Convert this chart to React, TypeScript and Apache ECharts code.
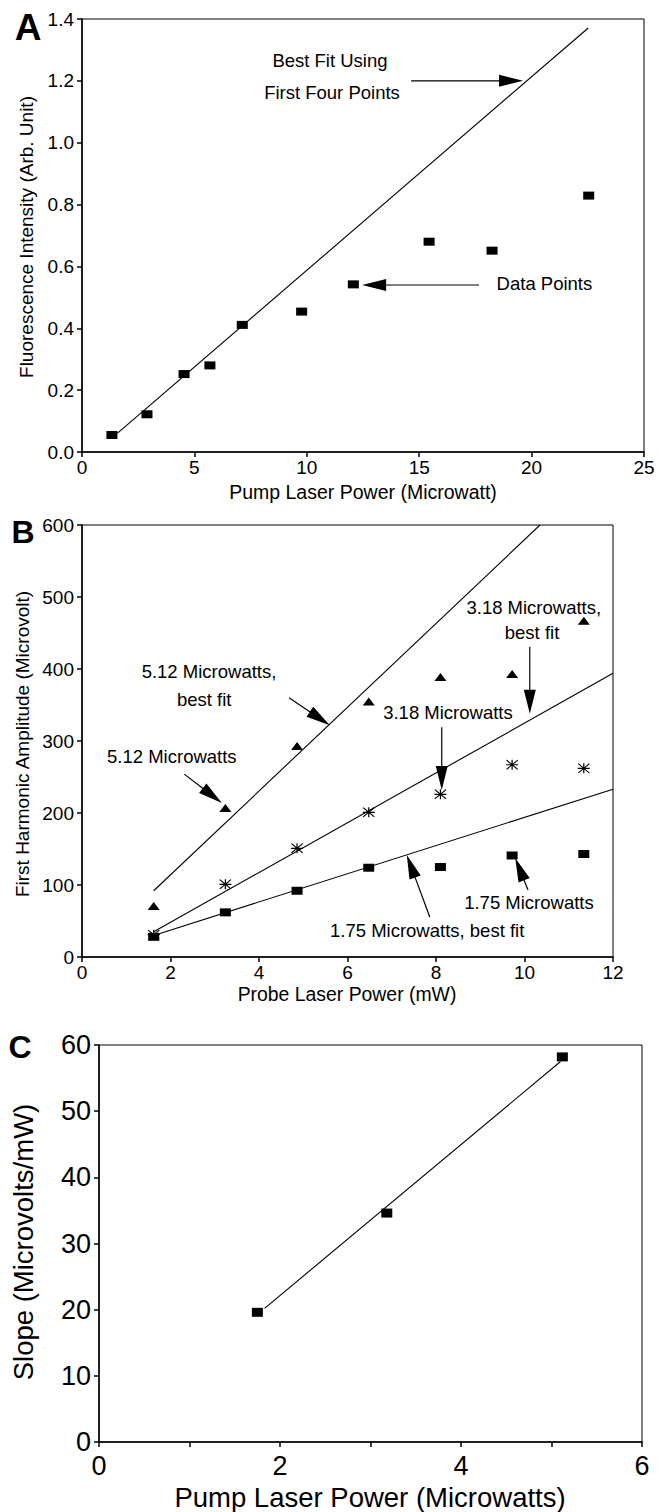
import React, { useEffect, useRef } from "react";
import * as echarts from "echarts";

const FONT = '"Liberation Sans", Arial, Helvetica, sans-serif';

// ---------- Panel A ----------
const aPumpPower = [1.33, 2.89, 4.54, 5.69, 7.13, 9.77, 12.07, 15.44, 18.24, 22.54];
const aFluorescence = [0.055, 0.122, 0.252, 0.28, 0.411, 0.454, 0.542, 0.68, 0.651, 0.829];
const aFitX = [1.57, 22.52];
const aFitY = [0.06, 1.371];

// ---------- Panel B ----------
const bProbePower = [1.62, 3.24, 4.86, 6.48, 8.1, 9.72, 11.34];
const b512 = [71, 207, 293, 355, 389, 393, 467];
const b318 = [31, 101, 151, 201, 226, 267, 262];
const b175 = [28, 62, 92, 124, 125, 141, 143];
const bFit512X = [1.62, 10.35];
const bFit512Y = [92, 600];
const bFit318X = [1.62, 12];
const bFit318Y = [35, 394];
const bFit175X = [1.62, 12];
const bFit175Y = [30, 233];

// ---------- Panel C ----------
const cPumpPower = [1.75, 3.18, 5.12];
const cSlope = [19.6, 34.6, 58.2];
const cFitX = [1.83, 5.1];
const cFitY = [20.2, 57.5];

// ---------- Annotations (data coordinates) ----------
const aNotes = [
  { text: "Best Fit Using", x: 11.03, y: 1.267 },
  { text: "First Four Points", x: 11.12, y: 1.161 },
  { text: "Data Points", x: 20.57, y: 0.546 },
];
const aArrows = [
  { from: [14.64, 1.2], to: [19.62, 1.2] },
  { from: [17.66, 0.54], to: [12.46, 0.54] },
];
const bNotes = [
  { text: "5.12 Microwatts,", x: 2.87, y: 396 },
  { text: "best fit", x: 2.76, y: 358 },
  { text: "5.12 Microwatts", x: 2.03, y: 279 },
  { text: "3.18 Microwatts,", x: 10.21, y: 486 },
  { text: "best fit", x: 10.17, y: 451 },
  { text: "3.18 Microwatts", x: 8.27, y: 340 },
  { text: "1.75 Microwatts", x: 10.1, y: 76 },
  { text: "1.75 Microwatts, best fit", x: 7.8, y: 37.5 },
];
const bArrows = [
  { from: [4.68, 360], to: [5.6, 322] },
  { from: [2.31, 254], to: [3.16, 214] },
  { from: [10.12, 431], to: [10.12, 338] },
  { from: [8.13, 319], to: [8.13, 232] },
  { from: [10.08, 93], to: [9.79, 137.5] },
  { from: [7.86, 55.6], to: [7.34, 141.7] },
];

const STAR =
  "path://M0,4.4L12,4.4L12,5.6L0,5.6Z M5.4,0L6.6,0L6.6,10L5.4,10Z M0.8,0L12,9.3L11.2,10L0,0.7Z M11.2,0L12,0.7L0.8,10L0,9.3Z";

const zip = (xs: number[], ys: number[]) => xs.map((x, i) => [x, ys[i]]);

function axisBase(fontSize: number, margin: number) {
  return {
    axisLine: { show: true, onZero: false, lineStyle: { color: "#000", width: 1.5 } },
    axisTick: { show: true, inside: false, length: 5, lineStyle: { color: "#000", width: 1.5 } },
    splitLine: { show: false },
    axisLabel: { color: "#000", fontSize, fontFamily: FONT, margin },
  };
}

export default function App() {
  const ref = useRef<HTMLDivElement>(null);

  useEffect(() => {
    document.body.style.margin = "0";
    if (!ref.current) return;
    const chart = echarts.init(ref.current, undefined, { renderer: "svg" });

    const grids = [
      { left: 82, top: 19, width: 562, height: 433 },
      { left: 82, top: 525, width: 531, height: 432 },
      { left: 99, top: 1045, width: 543, height: 397 },
    ].map((g) => ({ ...g, show: true, borderColor: "#000", borderWidth: 1, containLabel: false }));

    const marker = (
      name: string,
      idx: number,
      data: number[][],
      symbol: string,
      size: number[]
    ) => ({
      name,
      type: "scatter",
      xAxisIndex: idx,
      yAxisIndex: idx,
      data,
      symbol,
      symbolSize: size,
      itemStyle: { color: "#000", opacity: 1 },
      z: 5,
      silent: true,
    });
    const fit = (name: string, idx: number, data: number[][]) => ({
      name,
      type: "line",
      xAxisIndex: idx,
      yAxisIndex: idx,
      data,
      showSymbol: false,
      symbol: "none",
      lineStyle: { color: "#000", width: 1.1 },
      z: 3,
      silent: true,
    });

    chart.setOption({
      animation: false,
      backgroundColor: "#fff",
      grid: grids,
      xAxis: [
        { type: "value", gridIndex: 0, min: 0, max: 25, interval: 5, ...axisBase(19, 6) },
        { type: "value", gridIndex: 1, min: 0, max: 12, interval: 2, ...axisBase(19, 6) },
        {
          type: "value",
          gridIndex: 2,
          min: 0,
          max: 6,
          interval: 1,
          ...axisBase(27, 10),
          axisLabel: {
            color: "#000",
            fontSize: 27,
            fontFamily: FONT,
            margin: 10,
            formatter: (v: number) => (v % 2 === 0 ? String(v) : ""),
          },
        },
      ],
      yAxis: [
        {
          type: "value",
          gridIndex: 0,
          min: 0,
          max: 1.4,
          interval: 0.2,
          ...axisBase(19, 8),
          axisLabel: {
            color: "#000",
            fontSize: 19,
            fontFamily: FONT,
            margin: 8,
            formatter: (v: number) => v.toFixed(1),
          },
        },
        { type: "value", gridIndex: 1, min: 0, max: 600, interval: 100, ...axisBase(19, 8) },
        { type: "value", gridIndex: 2, min: 0, max: 60, interval: 10, ...axisBase(27, 8) },
      ],
      series: [
        fit("A fit", 0, zip(aFitX, aFitY)),
        marker("A data", 0, zip(aPumpPower, aFluorescence), "rect", [11, 8]),
        fit("5.12 fit", 1, zip(bFit512X, bFit512Y)),
        fit("3.18 fit", 1, zip(bFit318X, bFit318Y)),
        fit("1.75 fit", 1, zip(bFit175X, bFit175Y)),
        marker("5.12 Microwatts", 1, zip(bProbePower, b512), "triangle", [12, 8]),
        marker("3.18 Microwatts", 1, zip(bProbePower, b318), STAR, [12, 10]),
        marker("1.75 Microwatts", 1, zip(bProbePower, b175), "rect", [11, 8]),
        fit("C fit", 2, zip(cFitX, cFitY)),
        marker("C data", 2, zip(cPumpPower, cSlope), "rect", [11, 9]),
      ],
    });

    const toPx = (g: number, p: number[]) =>
      chart.convertToPixel({ xAxisIndex: g, yAxisIndex: g } as any, p) as number[];

    const graphic: any[] = [];
    const addText = (x: number, y: number, text: string, fontSize: number, extra: any = {}) => {
      graphic.push({
        type: "text",
        x,
        y,
        silent: true,
        ...extra,
        style: {
          text,
          fontSize,
          fontFamily: FONT,
          fontWeight: extra.fontWeight || "normal",
          fill: "#000",
          align: "center",
          verticalAlign: "middle",
        },
      });
    };
    const addArrow = (g: number, from: number[], to: number[], len = 24, w = 12) => {
      const s = toPx(g, from);
      const t = toPx(g, to);
      const dx = t[0] - s[0];
      const dy = t[1] - s[1];
      const L = Math.hypot(dx, dy) || 1;
      const ux = dx / L;
      const uy = dy / L;
      const bx = t[0] - ux * len;
      const by = t[1] - uy * len;
      const nx = -uy;
      const ny = ux;
      graphic.push({
        type: "line",
        silent: true,
        shape: { x1: s[0], y1: s[1], x2: bx + ux * 2, y2: by + uy * 2 },
        style: { stroke: "#000", lineWidth: 1.2 },
      });
      graphic.push({
        type: "polygon",
        silent: true,
        shape: {
          points: [
            [t[0], t[1]],
            [bx + (nx * w) / 2, by + (ny * w) / 2],
            [bx - (nx * w) / 2, by - (ny * w) / 2],
          ],
        },
        style: { fill: "#000" },
      });
    };

    aNotes.forEach((n) => {
      const p = toPx(0, [n.x, n.y]);
      addText(p[0], p[1], n.text, 18.5);
    });
    aArrows.forEach((a) => addArrow(0, a.from, a.to));
    bNotes.forEach((n) => {
      const p = toPx(1, [n.x, n.y]);
      addText(p[0], p[1], n.text, 18.5);
    });
    bArrows.forEach((a) => addArrow(1, a.from, a.to));

    // panel letters
    addText(28, 27, "A", 37, { fontWeight: "bold" });
    addText(23, 532, "B", 32, { fontWeight: "bold" });
    addText(20, 1047, "C", 32, { fontWeight: "bold" });

    // axis titles
    addText(363, 492, "Pump Laser Power (Microwatt)", 19.5);
    addText(26, 237, "Fluorescence Intensity (Arb. Unit)", 19, { rotation: Math.PI / 2 });
    addText(347, 994, "Probe Laser Power (mW)", 19.4);
    addText(22, 744, "First Harmonic Amplitude (Microvolt)", 19, { rotation: Math.PI / 2 });
    addText(370, 1497, "Pump Laser Power (Microwatts)", 27.5);
    addText(23, 1242, "Slope (Microvolts/mW)", 27.5, { rotation: Math.PI / 2 });

    chart.setOption({ graphic });

    return () => chart.dispose();
  }, []);

  return <div ref={ref} style={{ width: 658, height: 1512 }} />;
}
